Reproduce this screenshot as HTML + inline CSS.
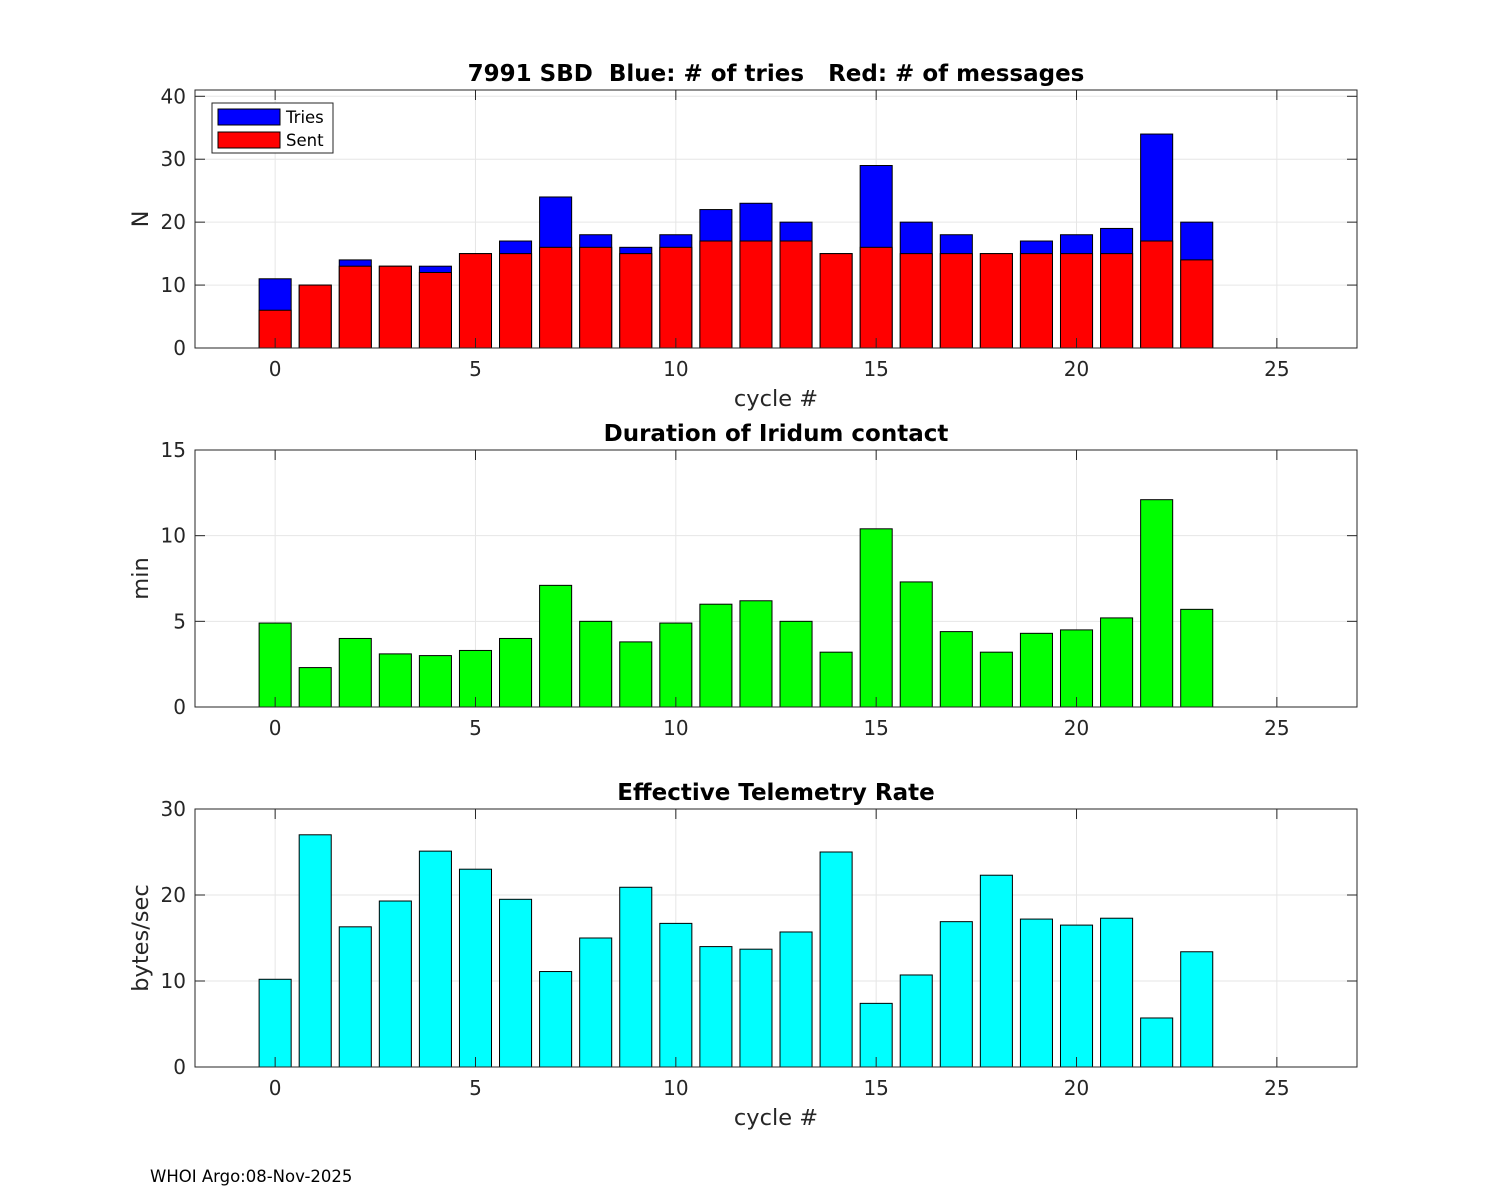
<!DOCTYPE html>
<html><head><meta charset="utf-8">
<style>
html,body{margin:0;padding:0;background:#fff;}
svg{display:block;font-family:"DejaVu Sans","Liberation Sans",sans-serif;}
svg text{white-space:pre;}
</style></head>
<body>
<svg id="chart" width="1500" height="1200" viewBox="0 0 1500 1200" xmlns="http://www.w3.org/2000/svg" xml:space="preserve">
<rect width="1500" height="1200" fill="#fff"/>
<text x="150" y="1182" font-size="16.5" fill="#000">WHOI Argo:08-Nov-2025</text>
</svg>
<script>
const cycles = [0,1,2,3,4,5,6,7,8,9,10,11,12,13,14,15,16,17,18,19,20,21,22,23];
const tries = [11,10,14,13,13,15,17,24,18,16,18,22,23,20,15,29,20,18,15,17,18,19,34,20];
const sent = [6,10,13,13,12,15,15,16,16,15,16,17,17,17,15,16,15,15,15,15,15,15,17,14];
const duration = [4.9,2.3,4.0,3.1,3.0,3.3,4.0,7.1,5.0,3.8,4.9,6.0,6.2,5.0,3.2,10.4,7.3,4.4,3.2,4.3,4.5,5.2,12.1,5.7];
const rate = [10.2,27,16.3,19.3,25.1,23,19.5,11.1,15,20.9,16.7,14,13.7,15.7,25,7.4,10.7,16.9,22.3,17.2,16.5,17.3,5.7,13.4];
const xTicks = [0,5,10,15,20,25];
const yTicks1 = [0,10,20,30,40];
const yTicks2 = [0,5,10,15];
const yTicks3 = [0,10,20,30];

const svg = document.getElementById('chart');
const NS = 'http://www.w3.org/2000/svg';
function mk(tag, attrs, parent){
  const e = document.createElementNS(NS, tag);
  for (const k in attrs) e.setAttribute(k, attrs[k]);
  (parent||svg).appendChild(e);
  return e;
}
const L = 195, R = 1357, XMIN = -2, XMAX = 27;
function xs(v){ return L + (v - XMIN) / (XMAX - XMIN) * (R - L); }
const BW = 0.8;

function panel(top, bottom, ymax, yticks, title, ylabel, showXLabel, name){
  const ys = v => bottom - v / ymax * (bottom - top);
  const g = mk('g', {});
  
  
  xTicks.forEach(t => {
    const gl = mk('line', {x1: xs(t), x2: xs(t), y1: top, y2: bottom, stroke: '#e6e6e6', 'stroke-width': 1}, g);
    
    
  });
  yticks.forEach(t => {
    const gl = mk('line', {x1: L, x2: R, y1: ys(t), y2: ys(t), stroke: '#e6e6e6', 'stroke-width': 1}, g);
    
    
  });
  return {g, ys, top, bottom, yticks, title, ylabel, showXLabel};
}
function frame(p){
  const {g, ys, top, bottom, yticks} = p;
  const box = mk('rect', {x: L, y: top, width: R - L, height: bottom - top, fill: 'none', stroke: '#262626', 'stroke-width': 1}, g);
  
  
  xTicks.forEach(t => {
    mk('line', {x1: xs(t), x2: xs(t), y1: bottom, y2: bottom - 10, stroke: '#262626'}, g);
    mk('line', {x1: xs(t), x2: xs(t), y1: top, y2: top + 10, stroke: '#262626'}, g);
    const tx = mk('text', {x: xs(t), y: bottom + 28, 'font-size': 20, 'text-anchor': 'middle', fill: '#262626'}, g);
    tx.textContent = t;
    
    
  });
  yticks.forEach(t => {
    mk('line', {x1: L, x2: L + 10, y1: ys(t), y2: ys(t), stroke: '#262626'}, g);
    mk('line', {x1: R, x2: R - 10, y1: ys(t), y2: ys(t), stroke: '#262626'}, g);
    const tx = mk('text', {x: L - 9, y: ys(t) + 7, 'font-size': 20, 'text-anchor': 'end', fill: '#262626'}, g);
    tx.textContent = t;
    
    
  });
  const ti = mk('text', {x: (L + R) / 2, y: top - 9, 'font-size': 23, 'font-weight': 'bold', 'text-anchor': 'middle', fill: '#000'}, g);
  ti.textContent = p.title;
  
  
  const cy = (top + bottom) / 2;
  const yl = mk('text', {x: 148, y: cy, 'font-size': 22.5, 'text-anchor': 'middle', fill: '#262626', transform: `rotate(-90 148 ${cy})`}, g);
  yl.textContent = p.ylabel;
  
  
  if (p.showXLabel){
    const xl = mk('text', {x: (L + R) / 2, y: bottom + 58, 'font-size': 22.5, 'text-anchor': 'middle', fill: '#262626'}, g);
    xl.textContent = 'cycle #';
    
    
  }
}
function bars(p, vals, color, nm){
  cycles.forEach((c, i) => {
    const y = p.ys(vals[i]);
    const b = mk('rect', {x: xs(c - BW / 2), y: y, width: xs(c + BW / 2) - xs(c - BW / 2), height: p.bottom - y, fill: color, stroke: '#000', 'stroke-width': 1}, p.g);
    
    
  });
}

const p1 = panel(90, 348, 41, yTicks1, '7991 SBD  Blue: # of tries   Red: # of messages', 'N', true, 'messages-panel');
bars(p1, tries, '#0000ff', 'tries');
bars(p1, sent, '#ff0000', 'sent');
frame(p1);
const lg = mk('g', {});


mk('rect', {x: 212, y: 103, width: 121, height: 50, fill: '#fff', stroke: '#262626'}, lg);
const le1 = mk('rect', {x: 218, y: 109, width: 62, height: 16, fill: '#0000ff', stroke: '#000'}, lg);


const le2 = mk('rect', {x: 218, y: 132, width: 62, height: 16, fill: '#ff0000', stroke: '#000'}, lg);


const lt1 = mk('text', {x: 286, y: 123, 'font-size': 16.5, fill: '#000'}, lg); lt1.textContent = 'Tries';
const lt2 = mk('text', {x: 286, y: 146, 'font-size': 16.5, fill: '#000'}, lg); lt2.textContent = 'Sent';

const p2 = panel(450, 707, 15, yTicks2, 'Duration of Iridum contact', 'min', false, 'duration-panel');
bars(p2, duration, '#00ff00', 'duration');
frame(p2);

const p3 = panel(809, 1067, 30, yTicks3, 'Effective Telemetry Rate', 'bytes/sec', true, 'rate-panel');
bars(p3, rate, '#00ffff', 'rate');
frame(p3);
</script>
</body></html>
